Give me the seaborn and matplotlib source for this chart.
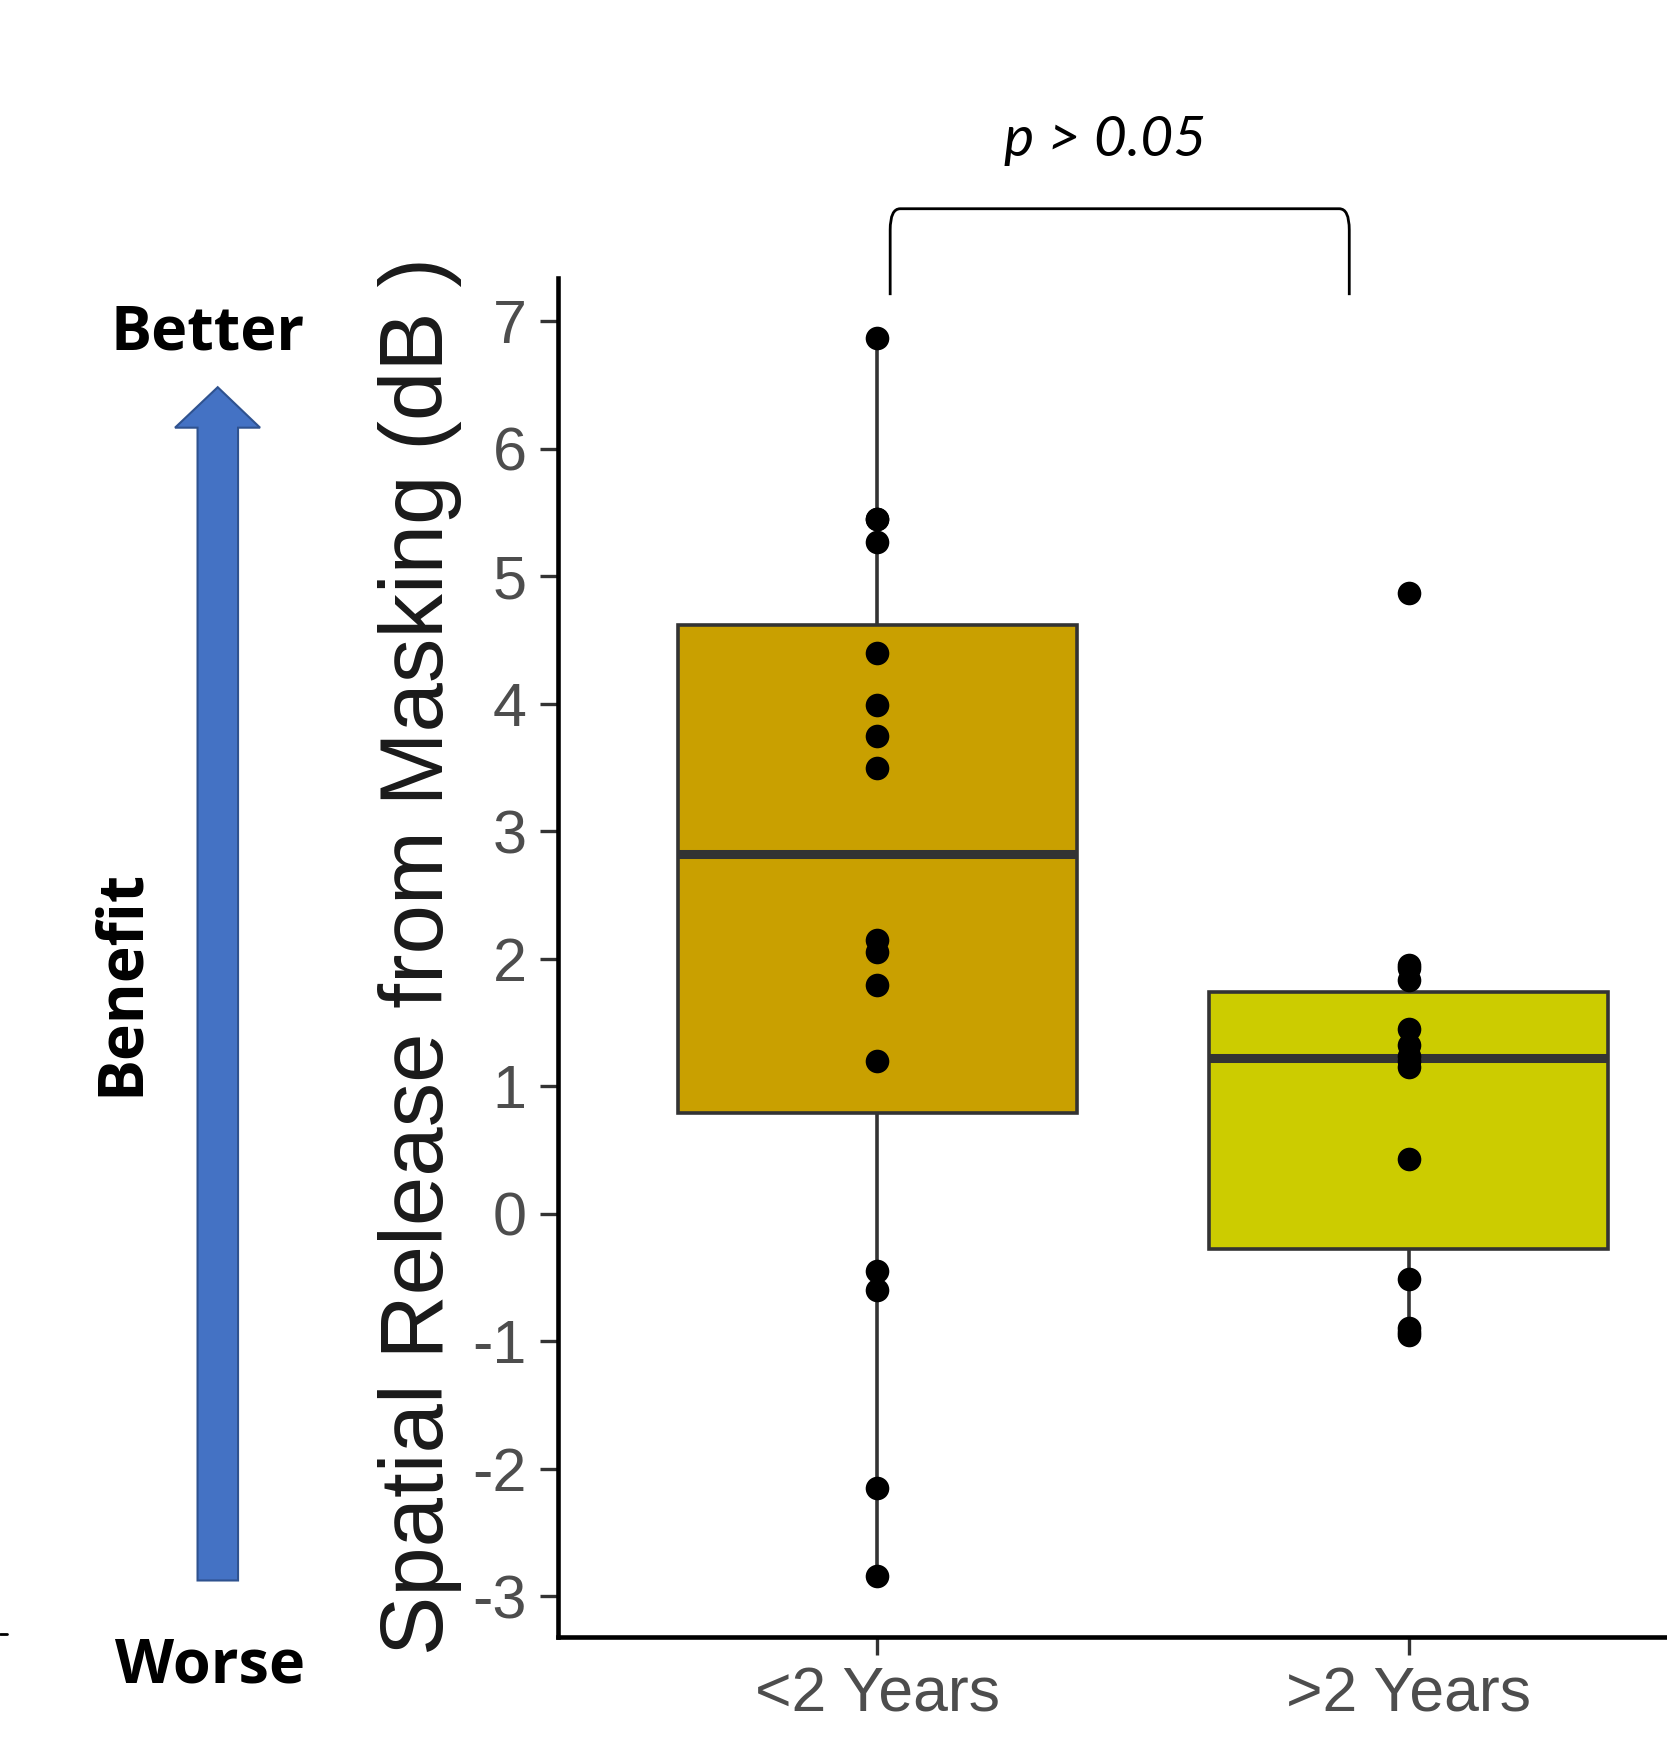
import numpy as np
import pandas as pd
import matplotlib
matplotlib.use("Agg")
import matplotlib.pyplot as plt
import seaborn as sns
from matplotlib.path import Path
from matplotlib.patches import PathPatch, Polygon
from matplotlib.lines import Line2D

# data
groups = ["<2 Years", ">2 Years"]
srm_under2 = [6.87, 5.45, 5.45, 5.27, 4.40, 3.99, 3.75, 3.50,
              2.15, 2.05, 1.79, 1.20, -0.45, -0.60, -2.15, -2.84]
srm_over2 = [4.87, 1.95, 1.93, 1.83, 1.45, 1.32, 1.24, 1.20,
             1.15, 0.43, -0.51, -0.90, -0.93, -0.95]
box_colors = ["#C9A000", "#CCCC00"]
y_ticks = list(range(-3, 8))
p_text = "p > 0.05"

df = pd.DataFrame({
    "group": [groups[0]] * len(srm_under2) + [groups[1]] * len(srm_over2),
    "srm": srm_under2 + srm_over2,
})

sns.set_theme(style="white")
plt.rcParams["font.family"] = ["Liberation Sans", "DejaVu Sans"]
plt.rcParams["text.color"] = "black"

fig = plt.figure(figsize=(16.67, 17.6), dpi=100)
ax = fig.add_axes([0.335, 0.070, 0.665, 0.772])

sns.boxplot(data=df, x="group", y="srm", hue="group", order=groups,
            hue_order=groups, palette=box_colors, saturation=1, width=0.75,
            showfliers=False, showcaps=False, linecolor="#333333",
            linewidth=2.6, medianprops=dict(linewidth=6.5, color="#333333"),
            legend=False, ax=ax)
sns.stripplot(data=df, x="group", y="srm", order=groups, jitter=False,
              color="black", size=17, ax=ax)

ax.set_ylim(-3.32, 7.34)
ax.set_xlim(-0.6, 1.486)
ax.set_yticks(y_ticks)
ax.set_yticklabels([str(t) for t in y_ticks])
ax.set_xlabel("")
ax.set_ylabel("")
for side in ["top", "right"]:
    ax.spines[side].set_visible(False)
for side in ["left", "bottom"]:
    ax.spines[side].set_color("black")
    ax.spines[side].set_linewidth(3.3)
ax.tick_params(axis="both", direction="out", length=13, width=2.4,
               color="#333333", labelcolor="#4D4D4D", left=True, bottom=True)
ax.tick_params(axis="y", labelsize=44, pad=10)
ax.tick_params(axis="x", labelsize=45, pad=8)

fig.text(0.252, 0.4566, "Spatial Release from Masking (dB )", rotation=90,
         ha="center", va="center", fontsize=64, color="#1A1A1A")

# significance bracket
x0, x1, yt, yb = 0.534, 0.8094, 0.8814, 0.8323
rx, ry = 0.006, 0.012
verts = [(x0, yb), (x0, yt - ry), (x0, yt), (x0 + rx, yt), (x1 - rx, yt),
         (x1, yt), (x1, yt - ry), (x1, yb)]
codes = [Path.MOVETO, Path.LINETO, Path.CURVE3, Path.CURVE3, Path.LINETO,
         Path.CURVE3, Path.CURVE3, Path.LINETO]
fig.patches.append(PathPatch(Path(verts, codes), transform=fig.transFigure,
                             fill=False, edgecolor="black", linewidth=2))
fig.text(0.663, 0.920, p_text, ha="center", va="center", fontsize=41,
         style="italic", family=["Lato", "DejaVu Sans"], color="black")

# benefit arrow on the left
arrow = [(0.1185, 0.102), (0.1428, 0.102), (0.1428, 0.757), (0.156, 0.757),
         (0.1306, 0.780), (0.105, 0.757), (0.1185, 0.757)]
fig.patches.append(Polygon(arrow, closed=True, transform=fig.transFigure,
                           facecolor="#4472C4", edgecolor="#2F528F",
                           linewidth=1.5))
fig.text(0.1246, 0.810, "Better", ha="center", va="center", fontsize=44,
         fontweight="bold", family=["Open Sans", "DejaVu Sans"], color="black")
fig.text(0.126, 0.053, "Worse", ha="center", va="center", fontsize=44,
         fontweight="bold", family=["Open Sans", "DejaVu Sans"], color="black")
fig.text(0.0727, 0.442, "Benefit", rotation=90, ha="center", va="center",
         fontsize=45, fontweight="bold", family=["Open Sans", "DejaVu Sans"],
         color="black")
fig.lines.append(Line2D([0.0, 0.004], [0.0714, 0.0714],
                        transform=fig.transFigure, color="black", linewidth=2))

fig.savefig("out.png", dpi=100)
